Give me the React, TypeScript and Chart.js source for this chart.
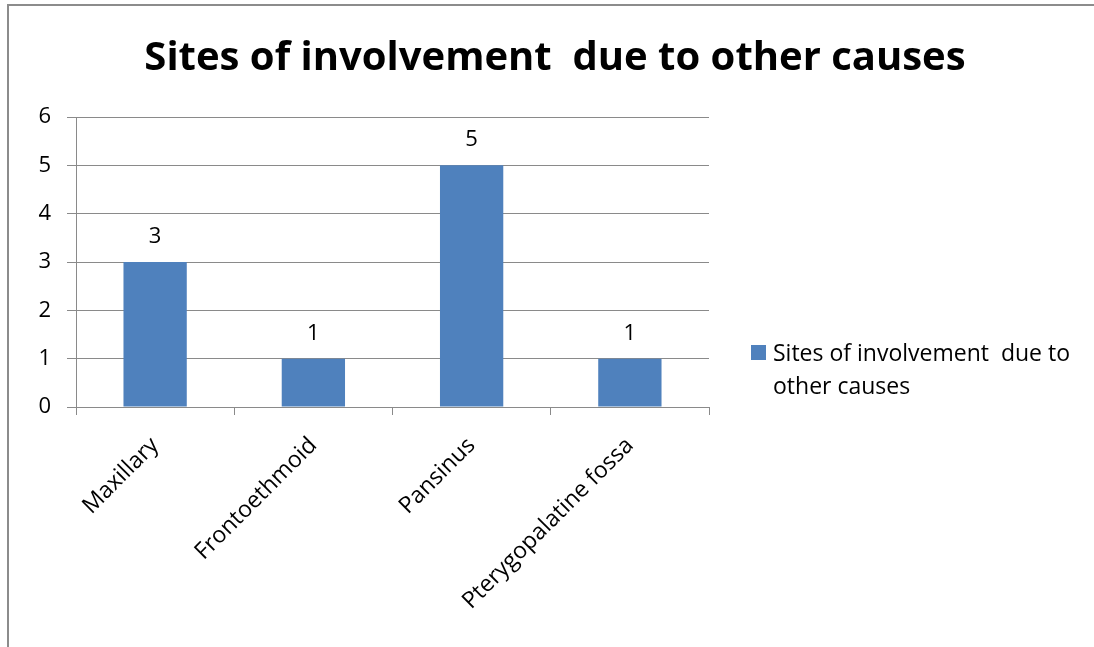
import React, { useEffect, useRef } from "react";
import { Chart, registerables } from "chart.js";

Chart.register(...registerables);

const chartTitle = "Sites of involvement  due to other causes";
const seriesLabel = "Sites of involvement  due to other causes";
const legendLines = ["Sites of involvement  due to", "other causes"];
const categories = ["Maxillary", "Frontoethmoid", "Pansinus", "Pterygopalatine fossa"];
const values = [3, 1, 5, 1];
const yMin = 0;
const yMax = 6;
const yStep = 1;

const FONT = "'Open Sans', Lato, sans-serif";
const GRID = "#8a8a8a";
const BAR = "#4F81BD";

export default function App() {
  const ref = useRef<HTMLCanvasElement>(null);

  useEffect(() => {
    const canvas = ref.current;
    if (!canvas) return;

    const decor = {
      id: "decor",
      beforeDraw(chart: any) {
        const ctx = chart.ctx;
        ctx.save();
        ctx.strokeStyle = "#8c8c8c";
        ctx.lineWidth = 2;
        ctx.beginPath();
        ctx.moveTo(8, 647);
        ctx.lineTo(8, 5);
        ctx.lineTo(1094, 5);
        ctx.stroke();
        ctx.restore();
      },
      afterDatasetsDraw(chart: any) {
        const ctx = chart.ctx;
        const meta = chart.getDatasetMeta(0);
        ctx.save();
        ctx.fillStyle = "#000";
        ctx.font = `22px ${FONT}`;
        ctx.textAlign = "center";
        ctx.textBaseline = "alphabetic";
        meta.data.forEach((el: any, i: number) => {
          ctx.fillText(String(chart.data.datasets[0].data[i]), el.x, el.y - 19);
        });
        ctx.restore();
      },
      afterDraw(chart: any) {
        const ctx = chart.ctx;
        const area = chart.chartArea;
        ctx.save();
        // title
        ctx.fillStyle = "#000";
        ctx.font = `bold 40px ${FONT}`;
        ctx.textAlign = "center";
        ctx.textBaseline = "alphabetic";
        ctx.fillText(chartTitle, 555, 70);
        // legend
        const lx = area.right + 42;
        ctx.fillStyle = BAR;
        ctx.fillRect(lx, 345, 15, 15);
        ctx.fillStyle = "#000";
        ctx.font = `23px ${FONT}`;
        ctx.textAlign = "left";
        legendLines.forEach((line, i) => {
          ctx.fillText(line, lx + 22, 361 + i * 33);
        });
        ctx.restore();
      },
    };

    const chart = new Chart(canvas, {
      type: "bar",
      data: {
        labels: categories,
        datasets: [
          {
            label: seriesLabel,
            data: values,
            backgroundColor: BAR,
            barPercentage: 0.4,
            categoryPercentage: 1,
          },
        ],
      },
      options: {
        animation: false,
        responsive: false,
        devicePixelRatio: 1,
        layout: { padding: { top: 117, right: 385, left: 0, bottom: 0 } },
        plugins: {
          legend: { display: false },
          title: { display: false },
          tooltip: { enabled: false },
        },
        scales: {
          x: {
            offset: true,
            grid: {
              display: true,
              offset: true,
              drawOnChartArea: false,
              drawTicks: true,
              tickLength: 8,
              color: GRID,
              lineWidth: 1,
            },
            border: { display: true, color: GRID, width: 1 },
            ticks: {
              autoSkip: false,
              minRotation: 45,
              maxRotation: 45,
              padding: 17,
              color: "#000",
              font: { family: FONT, size: 23 },
            },
            afterFit(scale: any) {
              scale.height = 240;
            },
          },
          y: {
            min: yMin,
            max: yMax,
            grid: {
              color: GRID,
              lineWidth: 1,
              tickLength: 9,
              drawTicks: true,
            },
            border: { display: true, color: GRID, width: 1 },
            ticks: {
              stepSize: yStep,
              padding: 16,
              color: "#000",
              font: { family: FONT, size: 22 },
            },
            afterFit(scale: any) {
              scale.width = 76;
            },
          },
        },
      },
      plugins: [decor],
    });

    return () => chart.destroy();
  }, []);

  return (
    <div style={{ position: "absolute", left: 0, top: 0, width: 1094, height: 647, background: "#fff" }}>
      <canvas ref={ref} width={1094} height={647} style={{ display: "block" }} />
    </div>
  );
}
